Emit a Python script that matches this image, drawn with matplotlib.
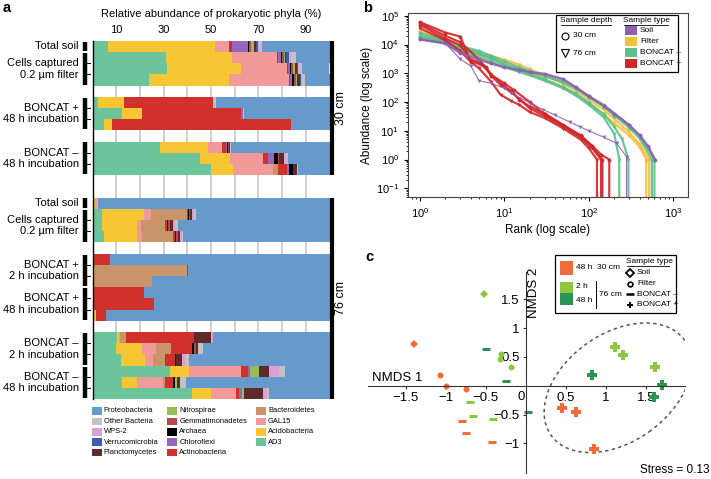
import numpy as np
import matplotlib
matplotlib.use('Agg')
import matplotlib.pyplot as plt
from matplotlib.patches import Rectangle, Ellipse
from matplotlib.transforms import Affine2D, blended_transform_factory

plt.rcParams['font.family'] = ['Liberation Sans', 'DejaVu Sans']

W, H = 711, 479

# ---------- panel a data (relative abundance %, one value per bar) ----------
phyla = ['AD3', 'Acidobacteria', 'GAL15', 'Bacteroidetes', 'Actinobacteria', 'Chloroflexi',
         'Archaea', 'Gemmatimonadetes', 'Nitrospirae', 'Planctomycetes', 'Verrucomicrobia',
         'WPS-2', 'Other Bacteria', 'Proteobacteria']
phyla_colors = ['#6cc59a', '#f7c634', '#f29a9a', '#c9946a', '#d0312d', '#9467bd',
                '#000000', '#b5484a', '#97bd56', '#5e2a2c', '#3b5fae',
                '#dc9fd6', '#c2c2c2', '#6699cc']
AD3 = [6.5, 31, 31.3, 23.8, 2.2, 12.3, 5, 28.5, 45.4, 49.9, 0.2, 3.9, 3.9, 4.9, 0, 0.3, 0, 0, 0, 0.5, 10.5, 9.8, 11.9, 32.7, 12.6, 41.9]
Acido = [45, 28, 31.2, 34, 11.2, 8.5, 3.1, 20.4, 12.6, 9.5, 1.0, 17.8, 14.7, 13.7, 0, 0, 0.8, 0, 0, 0.9, 0.5, 11, 10.3, 8.1, 6.3, 8.1]
GAL15 = [6, 19, 19.7, 25.3, 0, 0, 0, 5.6, 14, 16.9, 0.5, 2.8, 1.7, 2.2, 0, 0, 0, 0, 0, 0, 0.5, 6, 3.5, 21.7, 10.7, 10.5]
Bact = [0, 0, 0, 0, 0, 0, 0, 0, 0, 1.8, 0.3, 15.2, 10.3, 13.3, 0, 39.4, 24.2, 0, 0, 0, 2.7, 6.2, 4.9, 0, 1.2, 0]
Actino = [1.5, 0.3, 0.3, 0.3, 37.6, 41.9, 75.5, 1.7, 2.2, 3.9, 0, 0.6, 0.8, 0.8, 7.4, 0.4, 0, 21.7, 26.1, 4.3, 28.8, 9.1, 4.2, 3.2, 3.3, 1.4]
Chloro = [6.5, 1.2, 0.8, 0.8, 0, 0.7, 0, 0.4, 2.4, 1.0, 0, 0, 0, 0, 0, 0, 0, 0, 0, 0, 0, 0, 0, 0.7, 0, 1.1]
Archaea = [0.5, 0.5, 0.6, 0.7, 0, 0, 0, 0.5, 1.8, 1.7, 0, 0.5, 0.5, 0.4, 0, 0, 0, 0, 0, 0, 0, 0.9, 0.3, 0, 0.7, 0]
Gemma = [0.8, 0.6, 0.8, 0.8, 0, 0, 0, 0.4, 0.5, 0, 0, 0.5, 0.8, 0.8, 0, 0, 0, 0, 0, 0, 0, 0.6, 0, 0, 0, 0]
Nitro = [1.5, 0.5, 0.6, 0.7, 0, 0, 0, 0, 0, 0, 0, 0, 0, 0, 0, 0, 0, 0, 0, 0, 0, 0, 0, 4.0, 0.7, 1.1]
Planct = [0.8, 0.5, 0.8, 1.0, 0, 0, 0, 0.6, 2.0, 1.6, 0, 0.8, 1.4, 0.8, 0, 0, 0, 0, 0, 0, 7.1, 1.0, 2.5, 4.2, 1.4, 7.7]
Verru = [0.8, 1.5, 0.6, 0.6, 0, 0, 0, 0, 0, 0, 0, 0, 0, 0, 0, 0, 0, 0, 0, 0, 0, 0, 0, 0, 0, 0]
WPS2 = [0.5, 0.5, 0.5, 0.6, 0, 0, 0, 0, 0.6, 0, 0, 0.8, 0.5, 0.8, 0, 0, 0, 0, 0, 0, 0.7, 0, 1.4, 4.2, 0, 1.7]
Other = [1.3, 2.3, 1.0, 1.0, 1.1, 0.6, 0, 0.4, 0.8, 0.4, 0.5, 0.6, 1.4, 0.6, 0, 0, 0, 0, 0, 0, 0, 1.9, 1.8, 2.4, 2.6, 0.8]
Proteo = [28.3, 14.1, 11.8, 10.4, 47.9, 36.0, 16.4, 41.5, 17.7, 13.3, 97.5, 56.5, 64, 61.7, 92.6, 59.9, 75, 78.3, 73.9, 94.3, 49.2, 53.5, 59.2, 18.8, 60.5, 25.7]
stack = [AD3, Acido, GAL15, Bact, Actino, Chloro, Archaea, Gemma, Nitro, Planct, Verru, WPS2, Other, Proteo]

# row slot of every bar (gaps are empty slots)
bar_slots = [0, 1, 2, 3, 5, 6, 7, 9, 10, 11, 14, 15, 16, 17, 19, 20, 21, 22, 23, 24, 26, 27, 28, 29, 30, 31]
groups = [('Total soil', 0, 0), ('Cells captured\n0.2 \u00b5m filter', 1, 3),
          ('BONCAT +\n48 h incubation', 5, 7), ('BONCAT \u2013\n48 h incubation', 9, 11),
          ('Total soil', 14, 14), ('Cells captured\n0.2 \u00b5m filter', 15, 17),
          ('BONCAT +\n2 h incubation', 19, 21), ('BONCAT +\n48 h incubation', 22, 24),
          ('BONCAT \u2013\n2 h incubation', 26, 28), ('BONCAT \u2013\n48 h incubation', 29, 31)]
depths = [('30 cm', 0, 11), ('76 cm', 14, 31)]

# ---------- panel b data (rank, abundance) ----------
soil_colour, filt_colour, bneg_colour, bpos_colour = '#8f5fb0', '#f5c03a', '#5cc08e', '#d1272b'
r_soil30 = [1, 2, 3, 5, 7, 10, 15, 20, 30, 50, 70, 100, 150, 200, 300, 400, 500, 610]
a_soil30 = [1.5e4, 1.1e4, 5e3, 3e3, 2.2e3, 1.6e3, 1.3e3, 1.1e3, 950, 620, 330, 160, 75, 40, 16, 7, 3, 1]
r_soil76 = [1, 2, 3, 4, 5, 7, 10, 12, 20, 29, 40, 60, 78, 100, 150, 214, 280, 280]
a_soil76 = [1.5e4, 1.1e4, 3.1e3, 1.8e3, 550, 450, 300, 200, 95, 54, 35, 20, 14, 10, 6, 3.7, 1.26, 0.01]
r_filt30 = [1, 2, 3, 5, 7, 10, 15, 20, 30, 50, 70, 100, 150, 200, 300, 400, 480, 480]
a_filt30 = [3e4, 1.5e4, 8e3, 4e3, 3e3, 2.4e3, 1.6e3, 1.1e3, 650, 320, 190, 90, 40, 18, 7, 2.8, 1, 0.01]
r_filt76 = [1, 2, 3, 5, 7, 10, 15, 20, 30, 50, 70, 100, 150, 200, 300, 400, 520, 520]
a_filt76 = [2.2e4, 1.3e4, 9e3, 5e3, 4e3, 3e3, 2e3, 1.4e3, 850, 420, 260, 120, 55, 26, 9, 3.5, 1, 0.01]
r_bneg30a = [1, 2, 3, 5, 7, 10, 15, 20, 30, 50, 70, 100, 150, 200, 300, 400, 500, 600, 600]
a_bneg30a = [1.8e4, 1.3e4, 8e3, 5e3, 3.5e3, 2e3, 1.4e3, 1.1e3, 800, 500, 320, 160, 80, 40, 16, 6.5, 2.5, 1, 0.01]
r_bneg30b = [1, 2, 3, 5, 7, 10, 15, 20, 30, 50, 70, 100, 150, 200, 300, 400, 560, 560]
a_bneg30b = [2.5e4, 1.4e4, 9e3, 6e3, 4e3, 2.6e3, 1.6e3, 1.2e3, 820, 480, 300, 150, 70, 34, 13, 5.5, 1, 0.01]
r_bneg76a = [1, 2, 3, 5, 7, 10, 15, 20, 30, 50, 70, 100, 150, 200, 250, 295, 295]
a_bneg76a = [2e4, 1.2e4, 7e3, 4.5e3, 3.3e3, 2e3, 1.3e3, 950, 600, 330, 200, 95, 38, 14, 5, 1, 0.01]
r_bneg76b = [1, 2, 3, 5, 7, 10, 15, 20, 30, 50, 70, 100, 150, 200, 230, 230]
a_bneg76b = [1.6e4, 1.1e4, 6e3, 3.5e3, 2.6e3, 1.7e3, 1.1e3, 850, 550, 300, 170, 80, 30, 8, 1, 0.01]
r_bpos30a = [1, 2, 3, 4, 5, 6, 7, 9, 12, 15, 20, 30, 50, 80, 110, 140, 175, 175]
a_bpos30a = [6e4, 2.6e4, 1.9e4, 2.5e3, 2.2e3, 1.5e3, 800, 400, 250, 120, 70, 40, 16, 7, 3, 1.5, 1, 0.01]
r_bpos30b = [1, 2, 3, 4, 5, 6, 7, 10, 13, 20, 30, 50, 80, 110, 145, 145]
a_bpos30b = [4.8e4, 1.6e4, 9.6e3, 2.9e3, 2.5e3, 1.7e3, 870, 450, 260, 100, 38, 15, 6.5, 2.8, 1, 0.01]
r_bpos76a = [1, 2, 3, 4, 5, 7, 9, 12, 15, 20, 30, 50, 80, 100, 125, 125]
a_bpos76a = [3.7e4, 1.4e4, 6e3, 2.5e3, 1.5e3, 500, 180, 110, 80, 45, 28, 12, 5, 2.5, 1, 0.01]
r_bpos76b = [1, 2, 3, 5, 7, 10, 15, 20, 30, 50, 80, 110, 140, 140]
a_bpos76b = [5.5e4, 2e4, 1.2e4, 3e3, 900, 350, 130, 60, 33, 14, 6, 2.5, 1, 0.01]
curves = [(r_filt30, a_filt30, filt_colour, 'o', 1.6), (r_filt76, a_filt76, filt_colour, 'v', 1.6),
          (r_bneg30a, a_bneg30a, bneg_colour, 'o', 1.6), (r_bneg30b, a_bneg30b, bneg_colour, 'o', 1.6),
          (r_bneg76a, a_bneg76a, bneg_colour, 'v', 1.6), (r_bneg76b, a_bneg76b, bneg_colour, 'v', 1.6),
          (r_bpos30a, a_bpos30a, bpos_colour, 'o', 1.6), (r_bpos30b, a_bpos30b, bpos_colour, 'o', 1.6),
          (r_bpos76a, a_bpos76a, bpos_colour, 'v', 1.6), (r_bpos76b, a_bpos76b, bpos_colour, 'v', 1.6),
          (r_soil30, a_soil30, soil_colour, 'o', 1.8), (r_soil76, a_soil76, soil_colour, 'v', 0.8)]

# ---------- panel c data (NMDS coordinates) ----------
c30, c2h, c48h = '#f26b3a', '#8dc63f', '#2a9457'
nmds_pts = [  # (x, y, colour, marker)
    (-1.40, 0.72, c30, 'D'), (-1.07, 0.18, c30, 'o'), (-1.00, 0.00, c30, 'o'), (-0.75, -0.05, c30, 'o'),
    (-0.80, -0.61, c30, '_'), (-0.75, -0.82, c30, '_'), (-0.42, -0.97, c30, '_'),
    (0.45, -0.38, c30, 'P'), (0.63, -0.45, c30, 'P'), (0.85, -1.10, c30, 'P'),
    (-0.52, 1.60, c2h, 'D'), (-0.31, 0.55, c2h, 'o'), (-0.32, 0.47, c2h, 'o'), (-0.19, 0.33, c2h, 'o'),
    (-0.70, -0.29, c2h, '_'), (-0.66, -0.52, c2h, '_'), (-0.41, -0.57, c2h, '_'),
    (1.11, 0.67, c2h, 'P'), (1.22, 0.53, c2h, 'P'), (1.62, 0.32, c2h, 'P'),
    (-0.50, 0.64, c48h, '_'), (-0.25, 0.08, c48h, '_'), (0.03, -0.46, c48h, '_'),
    (0.83, 0.18, c48h, 'P'), (1.70, 0.02, c48h, 'P'), (1.60, -0.19, c48h, 'P')]

fig = plt.figure(figsize=(W / 100, H / 100), dpi=100)

def px_axes(x0, y0, x1, y1):
    return fig.add_axes([x0 / W, 1 - y1 / H, (x1 - x0) / W, (y1 - y0) / H])

# ================= panel a =================
axa = px_axes(92.5, 40.7, 329.5, 399.3)
left = np.zeros(len(bar_slots))
for vals, col in zip(stack, phyla_colors):
    axa.barh(bar_slots, vals, left=left, height=1.0, color=col, linewidth=0, zorder=2)
    left += np.array(vals)
for g in range(10, 100, 10):
    axa.axvline(g, color='#c8c8c8', lw=1.2, zorder=1)
axa.set_xlim(0, 100)
axa.set_ylim(31.5, -0.5)
axa.set_yticks([])
axa.set_xticks([10, 30, 50, 70, 90])
axa.xaxis.tick_top()
axa.xaxis.set_label_position('top')
axa.set_xlabel('Relative abundance of prokaryotic phyla (%)', fontsize=8, labelpad=6)
axa.tick_params(axis='x', length=0, labelsize=8, pad=4)
for s in ['top', 'right', 'bottom']:
    axa.spines[s].set_visible(False)
axa.spines['left'].set_linewidth(1)

tra = blended_transform_factory(axa.transAxes, axa.transData)
for text, s0, s1 in groups:
    axa.plot([-0.031, -0.031], [s0 - 0.42, s1 + 0.42], color='black', lw=3.2,
             transform=tra, clip_on=False, solid_capstyle='butt')
    for b in np.arange(s0 + 0.5, s1, 1.0):
        axa.plot([-0.024, -0.012], [b, b], color='black', lw=0.7, transform=tra, clip_on=False)
    axa.text(-0.057, (s0 + s1) / 2, text, transform=tra, ha='right', va='center',
             fontsize=8, linespacing=1.2)
for text, s0, s1 in depths:
    axa.plot([1.012, 1.012], [s0 - 0.5, s1 + 0.5], color='black', lw=3,
             transform=tra, clip_on=False, solid_capstyle='butt')
    axa.text(1.05, (s0 + s1) / 2, text, transform=tra, rotation=90, ha='center',
             va='center', fontsize=9)

# ================= panel b =================
axb = px_axes(408, 13, 688, 197)
for r, a, col, mk, lw in curves:
    axb.plot(r, a, color=col, lw=lw, marker=mk, ms=2.8, mew=0, alpha=0.9)
axb.set_xscale('log')
axb.set_yscale('log')
axb.set_xlim(0.72, 1500)
axb.set_ylim(0.05, 1.25e5)
axb.set_yticks([1e-1, 1, 1e1, 1e2, 1e3, 1e4, 1e5])
axb.tick_params(which='both', labelsize=8, direction='out')
axb.tick_params(which='major', length=3)
axb.tick_params(which='minor', length=1.5)
axb.set_xlabel('Rank (log scale)', fontsize=8.5, labelpad=3)
axb.set_ylabel('Abundance (log scale)', fontsize=8.5, labelpad=2)
for s in axb.spines.values():
    s.set_color('#444444')
    s.set_linewidth(0.8)

# ================= panel c =================
axc = px_axes(368, 271.7, 685, 473.3)
for x, y, col, mk in nmds_pts:
    if mk == '_':
        axc.plot(x, y, marker='_', color=col, ms=6, mew=2.2, ls='none')
    elif mk == 'P':
        axc.plot(x, y, marker='P', color=col, ms=6.5, mew=0, ls='none')
    elif mk == 'D':
        axc.plot(x, y, marker='D', color=col, ms=4.5, mew=0, ls='none')
    else:
        axc.plot(x, y, marker='o', color=col, ms=4.3, mew=0, ls='none')
axc.set_xlim(-1.975, 1.99)
axc.set_ylim(-1.52, 1.98)
for s in ['top', 'right']:
    axc.spines[s].set_visible(False)
axc.spines['left'].set_position(('data', 0))
axc.spines['bottom'].set_position(('data', 0))
axc.spines['left'].set_color('#333333')
axc.spines['bottom'].set_color('#333333')
xt = [-1.5, -1, -0.5, 0.5, 1, 1.5]
yt = [-1, -0.5, 0.5, 1, 1.5]
axc.set_xticks(xt)
axc.set_xticklabels([('%g' % v).replace('-', '\u2212') for v in xt])
axc.set_yticks(yt)
axc.set_yticklabels([('%g' % v).replace('-', '\u2212') for v in yt])
axc.tick_params(labelsize=9.5, length=2.5, pad=2, color='#333333')
ell = Ellipse((0, 0), 2 * 82, 2 * 54, angle=35.5, fill=False, ls=(0, (2.2, 2.2)),
              ec='#555555', lw=1.1,
              transform=Affine2D().scale(1 / 80, 1 / 57.6).translate(1.15, -0.035) + axc.transData)
axc.add_patch(ell)

# ================= overlay (pixel coordinates) =================
ov = fig.add_axes([0, 0, 1, 1])
ov.set_xlim(0, W)
ov.set_ylim(H, 0)
ov.axis('off')

ov.text(3, 8, 'a', fontsize=10.5, fontweight='bold', va='center')
ov.text(363, 8, 'b', fontsize=10.5, fontweight='bold', va='center')
ov.text(365, 257, 'c', fontsize=10.5, fontweight='bold', va='center')

# legend a
legend_order = phyla[::-1]
legend_cols = phyla_colors[::-1]
col_x = [91.7, 167.3, 256]
for i, (nm, col) in enumerate(zip(legend_order, legend_cols)):
    cx = col_x[i // 5]
    cy = 411 + (i % 5) * 10.4
    ov.add_patch(Rectangle((cx, cy - 3.8), 10, 7.6, color=col, lw=0))
    ov.text(cx + 12, cy, nm, fontsize=5.4, va='center', ha='left')

# legend b
ov.add_patch(Rectangle((556, 15), 122, 57, fc='white', ec='black', lw=0.9))
for txt, x0, x1 in [('Sample depth', 561, 611), ('Sample type', 624, 668)]:
    ov.text((x0 + x1) / 2, 20.5, txt, fontsize=6, ha='center', va='center')
    ov.plot([x0, x1], [24.8, 24.8], color='black', lw=0.6)
ov.plot(565, 35.7, marker='o', mfc='white', mec='black', ms=5, mew=0.8)
ov.text(573, 35.7, '30 cm', fontsize=6, va='center')
ov.plot(565, 53, marker='v', mfc='white', mec='black', ms=5.5, mew=0.8)
ov.text(573, 53, '76 cm', fontsize=6, va='center')
for j, (txt, col) in enumerate([('Soil', soil_colour), ('Filter', filt_colour),
                                ('BONCAT \u2013', bneg_colour), ('BONCAT +', bpos_colour)]):
    cy = 30.7 + j * 10.9
    ov.add_patch(Rectangle((625, cy - 4.5), 12, 9, color=col, lw=0))
    ov.text(640, cy, txt, fontsize=6, va='center')

# legend c
ov.add_patch(Rectangle((555, 255), 121, 58, fc='white', ec='black', lw=0.9))
ov.add_patch(Rectangle((560, 260.7), 13.3, 14.3, color=c30, lw=0))
ov.text(576, 267.5, '48 h', fontsize=6, va='center')
ov.text(597, 267.5, '30 cm', fontsize=6, va='center')
ov.add_patch(Rectangle((560, 281.7), 13.3, 11.6, color=c2h, lw=0))
ov.add_patch(Rectangle((560, 293.3), 13.3, 11.7, color=c48h, lw=0))
ov.text(576.5, 287, '2 h', fontsize=6, va='center')
ov.text(576.5, 300, '48 h', fontsize=6, va='center')
ov.plot([595.5, 595.5], [281, 308], color='black', lw=0.7)
ov.text(599, 294.5, '76 cm', fontsize=6, va='center')
ov.text(626.5, 261.5, 'Sample type', fontsize=6, va='center')
ov.plot([626.5, 668.5], [265.6, 265.6], color='black', lw=0.6)
ov.plot(630, 272.7, marker='D', mfc='white', mec='black', ms=3.6, mew=1.3)
ov.text(637, 272.7, 'Soil', fontsize=6, va='center')
ov.plot(630, 283.5, marker='o', mfc='white', mec='black', ms=3.4, mew=1.2)
ov.text(637, 283.5, 'Filter', fontsize=6, va='center')
ov.plot(630, 294.3, marker='_', color='black', ms=6, mew=1.8)
ov.text(637, 294.3, 'BONCAT \u2013', fontsize=6, va='center')
ov.plot(630, 305, marker='P', color='black', ms=5, mew=0)
ov.text(637, 305, 'BONCAT +', fontsize=6, va='center')

ov.text(372, 378, 'NMDS 1', fontsize=9.5, ha='left', va='center')
ov.text(534, 293, 'NMDS 2', fontsize=9.5, rotation=90, ha='center', va='center')
ov.text(521, 397, '0', fontsize=9.5, ha='center', va='center')
ov.text(710, 470, 'Stress = 0.13', fontsize=8.5, ha='right', va='center')

fig.savefig('out.png', dpi=100)
